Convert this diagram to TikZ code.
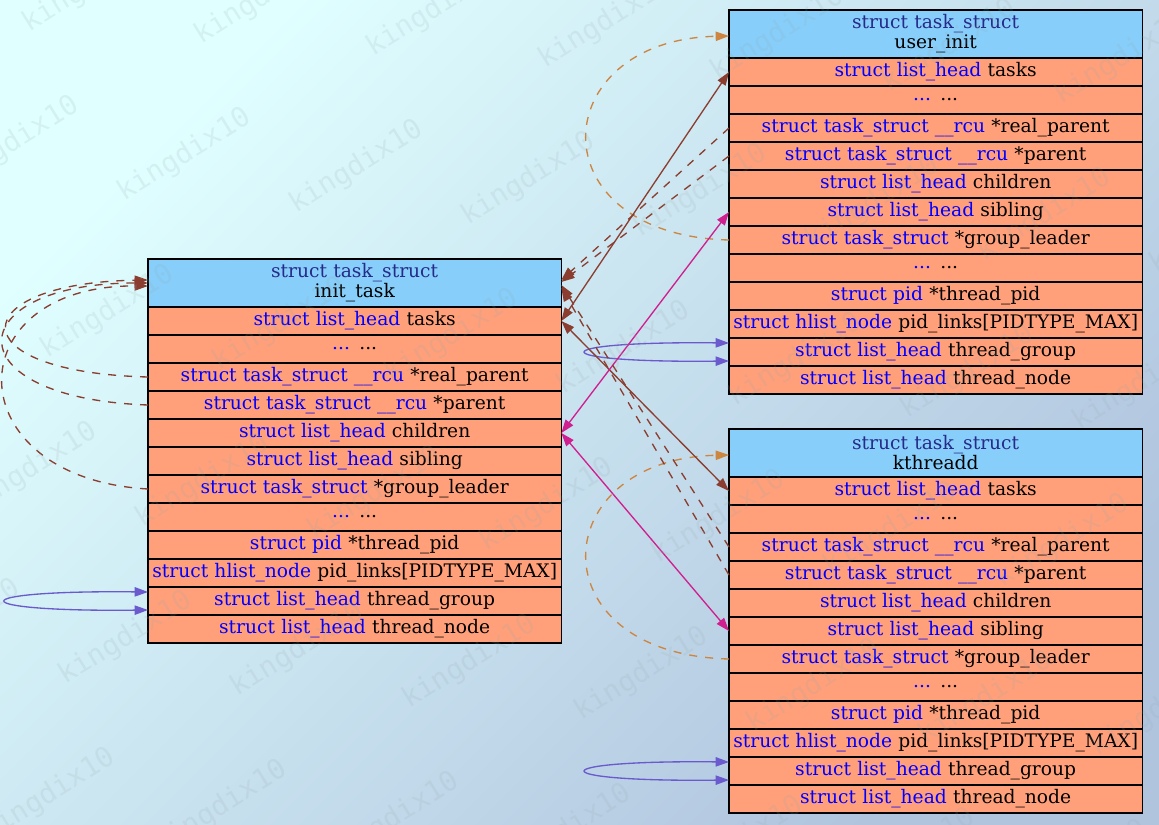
\documentclass[tikz,border=0pt]{standalone}
\usepackage{fontspec}
\setmainfont{DejaVu Serif}
\newfontfamily\wmfont{DejaVu Sans Mono}
\usetikzlibrary{arrows.meta}
\definecolor{coralfour}{RGB}{139,62,47}
\definecolor{vred}{RGB}{208,32,144}
\definecolor{sblue}{RGB}{106,90,205}
\definecolor{peru}{RGB}{205,133,63}
\definecolor{hdrfill}{RGB}{135,206,250}
\definecolor{rowfill}{RGB}{255,160,122}
\definecolor{hdrblue}{RGB}{38,42,136}
\definecolor{lcyan}{RGB}{224,255,255}
\definecolor{lsteel}{RGB}{176,196,222}
\definecolor{wmgray}{RGB}{150,170,175}
\newcommand\tyc[1]{\textcolor{blue}{#1}}
\newcommand\taskbox[4]{%
\node[hdr] (#1-h) at (#2,#3) {\textcolor{hdrblue}{struct task\_struct}\\#4};
\node[row] (#1-tasks) at (#1-h.south west) {\tyc{struct list\_head} tasks};
\node[row] (#1-d1) at (#1-tasks.south west) {\tyc{...} ...};
\node[row] (#1-rp) at (#1-d1.south west) {\tyc{struct task\_struct \_\_rcu} *real\_parent};
\node[row] (#1-p) at (#1-rp.south west) {\tyc{struct task\_struct \_\_rcu} *parent};
\node[row] (#1-ch) at (#1-p.south west) {\tyc{struct list\_head} children};
\node[row] (#1-sib) at (#1-ch.south west) {\tyc{struct list\_head} sibling};
\node[row] (#1-gl) at (#1-sib.south west) {\tyc{struct task\_struct} *group\_leader};
\node[row] (#1-d2) at (#1-gl.south west) {\tyc{...} ...};
\node[row] (#1-tp) at (#1-d2.south west) {\tyc{struct pid} *thread\_pid};
\node[row] (#1-pl) at (#1-tp.south west) {\tyc{struct hlist\_node} pid\_links[PIDTYPE\_MAX]};
\node[row] (#1-tg) at (#1-pl.south west) {\tyc{struct list\_head} thread\_group};
\node[row] (#1-tn) at (#1-tg.south west) {\tyc{struct list\_head} thread\_node};
}
\tikzset{
  boxbase/.style={draw=black, line width=1pt, inner sep=0pt, outer sep=0pt,
    anchor=north west, minimum width=310pt, text width=310pt, align=center},
  hdr/.style={boxbase, fill=hdrfill, minimum height=36pt, font=\fontsize{14}{15}\selectfont},
  row/.style={boxbase, fill=rowfill, minimum height=21pt, font=\fontsize{14}{15}\selectfont},
  edg/.style={line width=1pt},
  onearr/.style={-{Triangle[length=10pt,width=7pt]}},
  dblarr/.style={{Triangle[length=10pt,width=7pt]}-{Triangle[length=10pt,width=7pt]}},
  dsh/.style={dash pattern=on 6pt off 6pt},
  wm/.style={anchor=base west, rotate=32, inner sep=0pt, text=wmgray, text opacity=0.16,
    font=\wmfont\fontsize{21}{21}\selectfont},
}
\begin{document}
\begin{tikzpicture}[x=0.75pt, y=-0.75pt]
\useasboundingbox (0,0) rectangle (1159,824);
\shade[top color=lcyan, bottom color=lsteel, shading angle=45] (0,0) rectangle (1159,824);

\taskbox{it}{148}{259}{init\_task}
\taskbox{ui}{729}{10}{user\_init}
\taskbox{kt}{729}{429}{kthreadd}

% init_task self references
\draw[edg, coralfour, dsh, onearr] (it-rp.west) .. controls (-45,372) and (-35,283) .. ([yshift=2.25pt]it-h.west);
\draw[edg, coralfour, dsh, onearr] (it-p.west) .. controls (-50,398) and (-40,283) .. (it-h.west);
\draw[edg, coralfour, dsh, onearr] (it-gl.west) .. controls (-45,478) and (-45,285) .. ([yshift=-2.25pt]it-h.west);
\draw[edg, sblue, dblarr] ([yshift=6.75pt]it-tg.west) .. controls (-40,590) and (-40,612) .. ([yshift=-6.75pt]it-tg.west);

% user_init self references
\draw[edg, peru, dsh, onearr] (ui-gl.west) .. controls (535,235) and (545,40) .. ([yshift=-1.5pt]ui-h.west);
\draw[edg, sblue, dblarr] ([yshift=6.75pt]ui-tg.west) .. controls (540,341) and (540,363) .. ([yshift=-6.75pt]ui-tg.west);

% kthreadd self references
\draw[edg, peru, dsh, onearr] (kt-gl.west) .. controls (535,654) and (545,459) .. ([yshift=-1.5pt]kt-h.west);
\draw[edg, sblue, dblarr] ([yshift=6.75pt]kt-tg.west) .. controls (540,760) and (540,782) .. ([yshift=-6.75pt]kt-tg.west);

% tasks list
\draw[edg, coralfour, dblarr] (it-tasks.east) -- (ui-tasks.west);
\draw[edg, coralfour, dblarr] (it-tasks.east) -- (kt-tasks.west);
% children / sibling
\draw[edg, vred, dblarr] (it-ch.east) -- (ui-sib.west);
\draw[edg, vred, dblarr] (it-ch.east) -- (kt-sib.west);
% parents
\draw[edg, coralfour, dsh, onearr] (ui-rp.west) -- ([yshift=2.25pt]it-h.east);
\draw[edg, coralfour, dsh, onearr] (ui-p.west) -- ([yshift=0.75pt]it-h.east);
\draw[edg, coralfour, dsh, onearr] (kt-rp.west) -- ([yshift=-1.5pt]it-h.east);
\draw[edg, coralfour, dsh, onearr] (kt-p.west) -- ([yshift=-3.75pt]it-h.east);

% watermark
\begin{scope}
\clip (0,0) rectangle (1159,824);
\foreach \i in {-1,...,10}{
  \foreach \j in {-1,...,6}{
    \pgfmathsetmacro\wx{29+172*\i-77*\j}
    \pgfmathsetmacro\wy{33+12*\i+157*\j}
    \node[wm] (wm\i x\j) at (\wx,\wy) {kingdix10};
  }
}
\end{scope}
\end{tikzpicture}
\end{document}
